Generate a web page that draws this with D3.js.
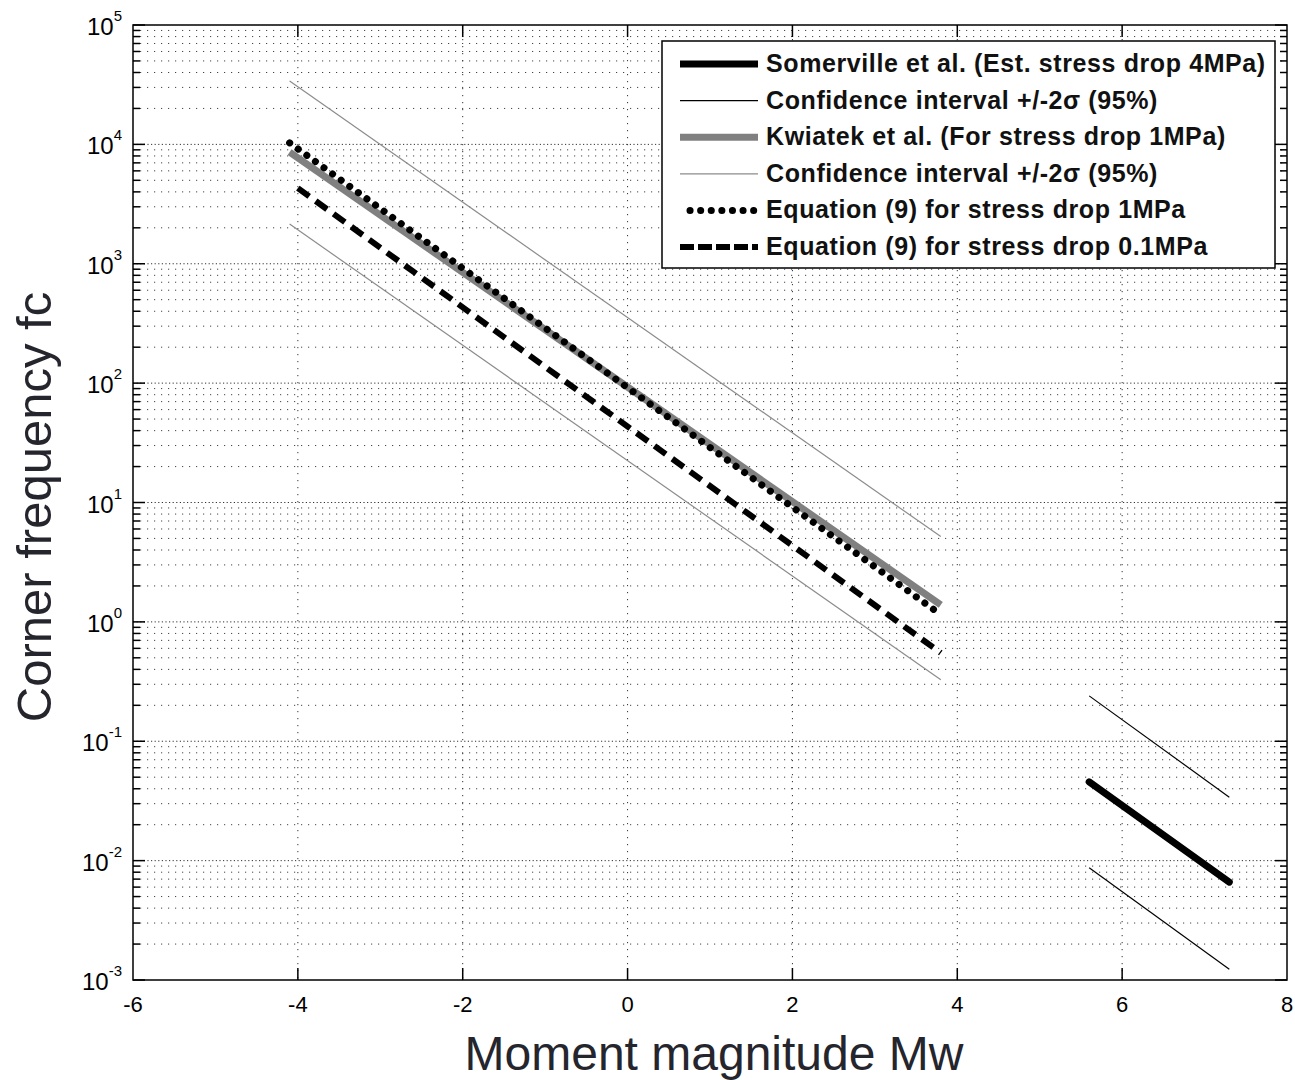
<!DOCTYPE html>
<html>
<head>
<meta charset="utf-8">
<script src="https://cdn.jsdelivr.net/npm/d3@7"></script>
<style>
  body { margin: 0; background: #fff; }
  svg text { font-family: "Liberation Sans", Arial, Helvetica, sans-serif; }
</style>
</head>
<body>
<svg id="chart" width="1295" height="1080"></svg>
<script>
// Mw, fc pairs
const somerville = [[5.6, 0.0457], [7.3, 0.0066]];
const somervilleHi = [[5.6, 0.24], [7.3, 0.034]];
const somervilleLo = [[5.6, 0.0087], [7.3, 0.00123]];
const kwiatek = [[-4.1, 8630], [3.8, 1.39]];
const kwiatekHi = [[-4.1, 33900], [3.8, 5.18]];
const kwiatekLo = [[-4.1, 2150], [3.8, 0.327]];
const eq1MPa = [[-4.1, 10300], [3.8, 1.15]];
const eq01MPa = [[-4.0, 4300], [3.8, 0.55]];

const xTicks = [-6, -4, -2, 0, 2, 4, 6, 8];
const yExps = [-3, -2, -1, 0, 1, 2, 3, 4, 5];

const legendLabels = [
  "Somerville et al. (Est. stress drop 4MPa)",
  "Confidence interval +/-2\u03c3 (95%)",
  "Kwiatek et al. (For stress drop 1MPa)",
  "Confidence interval +/-2\u03c3 (95%)",
  "Equation (9) for stress drop 1MPa",
  "Equation (9) for stress drop 0.1MPa"
];

const margin = {left: 133, top: 25, right: 8, bottom: 100};
const W = 1295, H = 1080;
const w = W - margin.left - margin.right;
const h = H - margin.top - margin.bottom;

const svg = d3.select("#chart");
const g = svg.append("g").attr("transform", "translate(" + margin.left + "," + margin.top + ")");

const x = d3.scaleLinear([-6, 8], [0, w]);
const y = d3.scaleLog([1e-3, 1e5], [h, 0]);

// minor values per decade
let minors = [];
yExps.slice(0, -1).forEach(e => {
  for (let k = 2; k <= 9; k++) minors.push(k * Math.pow(10, e));
});
const majors = yExps.map(e => Math.pow(10, e));

// grid
g.append("g").selectAll("line")
  .data(minors)
  .join("line")
  .attr("x1", 0).attr("x2", w)
  .attr("y1", d => y(d)).attr("y2", d => y(d))
  .attr("stroke", "#444")
  .attr("stroke-width", 1)
  .attr("stroke-dasharray", "1.2,5.8");

g.append("g").selectAll("line")
  .data(majors.slice(1, -1))
  .join("line")
  .attr("x1", 0).attr("x2", w)
  .attr("y1", d => y(d)).attr("y2", d => y(d))
  .attr("stroke", "#333")
  .attr("stroke-width", 1)
  .attr("stroke-dasharray", "1.2,2.4");

g.append("g").selectAll("line")
  .data(xTicks.slice(1, -1))
  .join("line")
  .attr("x1", d => x(d)).attr("x2", d => x(d))
  .attr("y1", 0).attr("y2", h)
  .attr("stroke", "#333")
  .attr("stroke-width", 1)
  .attr("stroke-dasharray", "1.2,5.8");

// series
const line = d3.line().x(d => x(d[0])).y(d => y(d[1]));

function draw(data, color, width, dash, cap) {
  g.append("path")
    .datum(data)
    .attr("fill", "none")
    .attr("stroke", color)
    .attr("stroke-width", width)
    .attr("stroke-dasharray", dash || null)
    .attr("stroke-linecap", cap || "butt")
    .attr("d", line);
}

draw(kwiatekHi, "#8c8c8c", 1.2);
draw(kwiatekLo, "#8c8c8c", 1.2);
draw(kwiatek, "#808080", 7);
draw(eq1MPa, "#000", 7, "0.1,10.5", "round");
draw(eq01MPa, "#000", 6, "14,8");
draw(somervilleHi, "#000", 1.2);
draw(somervilleLo, "#000", 1.2);
draw(somerville, "#000", 7, null, "round");

// axes box
g.append("rect")
  .attr("width", w).attr("height", h)
  .attr("fill", "none")
  .attr("stroke", "#000")
  .attr("stroke-width", 1.5);

const tk = g.append("g").attr("stroke", "#000").attr("stroke-width", 1.5);
xTicks.slice(1, -1).forEach(v => {
  tk.append("line").attr("x1", x(v)).attr("x2", x(v)).attr("y1", h).attr("y2", h - 12);
  tk.append("line").attr("x1", x(v)).attr("x2", x(v)).attr("y1", 0).attr("y2", 12);
});
majors.forEach(v => {
  tk.append("line").attr("x1", 0).attr("x2", 12).attr("y1", y(v)).attr("y2", y(v));
  tk.append("line").attr("x1", w).attr("x2", w - 12).attr("y1", y(v)).attr("y2", y(v));
});
minors.forEach(v => {
  tk.append("line").attr("x1", 0).attr("x2", 7).attr("y1", y(v)).attr("y2", y(v));
  tk.append("line").attr("x1", w).attr("x2", w - 7).attr("y1", y(v)).attr("y2", y(v));
});

// tick labels
g.append("g").selectAll("text")
  .data(xTicks)
  .join("text")
  .attr("x", d => x(d))
  .attr("y", h + 32)
  .attr("text-anchor", "middle")
  .attr("font-size", 22)
  .text(d => d);

const yl = g.append("g").selectAll("text")
  .data(yExps)
  .join("text")
  .attr("x", -11)
  .attr("y", d => y(Math.pow(10, d)) + 10)
  .attr("text-anchor", "end")
  .attr("font-size", 24);
yl.append("tspan").text("10");
yl.append("tspan").attr("dy", -14).attr("font-size", 15).text(d => d);

// axis titles
svg.append("text")
  .attr("x", 714)
  .attr("y", 1070)
  .attr("text-anchor", "middle")
  .attr("font-size", 48)
  .attr("fill", "#25252d")
  .text("Moment magnitude Mw");

svg.append("text")
  .attr("transform", "translate(51,507) rotate(-90)")
  .attr("text-anchor", "middle")
  .attr("font-size", 49)
  .attr("fill", "#25252d")
  .text("Corner frequency fc");

// legend
const lg = svg.append("g").attr("transform", "translate(662,41)");
lg.append("rect")
  .attr("width", 613).attr("height", 227)
  .attr("fill", "#fff")
  .attr("stroke", "#000")
  .attr("stroke-width", 1.5);

const legendStyles = [
  {c: "#000", w: 7},
  {c: "#000", w: 1.2},
  {c: "#808080", w: 7},
  {c: "#8c8c8c", w: 1.2},
  {c: "#000", w: 7, dash: "0.1,10.5", cap: "round"},
  {c: "#000", w: 6, dash: "14,4"}
];

legendLabels.forEach((t, i) => {
  const yy = 23 + i * 36.6;
  const s = legendStyles[i];
  lg.append("line")
    .attr("x1", s.cap ? 28 : 18).attr("x2", 96)
    .attr("y1", yy).attr("y2", yy)
    .attr("stroke", s.c)
    .attr("stroke-width", s.w)
    .attr("stroke-dasharray", s.dash || null)
    .attr("stroke-linecap", s.cap || "butt");
  lg.append("text")
    .attr("x", 104)
    .attr("y", yy + 8)
    .attr("font-size", 25)
    .attr("letter-spacing", 0.6)
    .attr("font-weight", "bold")
    .attr("fill", "#111")
    .text(t);
});
</script>
</body>
</html>
